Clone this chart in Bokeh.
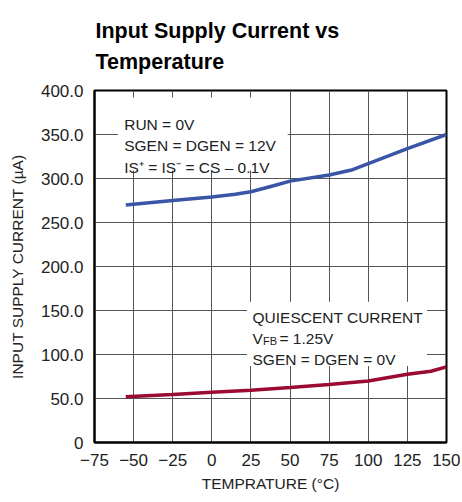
from bokeh.plotting import figure
from bokeh.models import Label, BoxAnnotation, Title, FixedTicker, Range1d
from bokeh.embed import file_html
from bokeh.resources import INLINE

# ---- data ----
temp_blue = [-55, -25, 0, 15, 25, 40, 50, 75, 90, 100, 125, 150]
run_current = [270, 275, 279, 282, 285, 292, 297, 304, 310, 317, 334, 350]
temp_red = [-55, -25, 0, 25, 50, 75, 100, 125, 140, 150]
quiescent_current = [52, 54.5, 57, 59.5, 62.5, 66, 70, 77.5, 81, 86]

x_ticks = [-75, -50, -25, 0, 25, 50, 75, 100, 125, 150]
x_tick_labels = ["\u221275", "\u221250", "\u221225", "0", "25", "50", "75", "100", "125", "150"]
y_ticks = [0, 50, 100, 150, 200, 250, 300, 350, 400]
y_tick_labels = ["0", "50.0", "100.0", "150.0", "200.0", "250.0", "300.0", "350.0", "400.0"]

FONT = "Liberation Sans"
BLUE = "#3a55a5"
RED = "#9b0a33"
TXT = "#222222"

p = figure(frame_width=352, frame_height=352, output_backend="svg", toolbar_location=None,
           x_range=Range1d(-75, 150), y_range=Range1d(0, 400),
           min_border_left=94, min_border_right=14, min_border_bottom=44, min_border_top=89)

p.add_layout(Title(text="Input Supply Current vs\nTemperature", text_font=FONT,
                   text_font_size="21.5px", text_font_style="bold", align="left",
                   offset=1, standoff=33, text_line_height=1.3,
                   text_color="black"), "above")

p.outline_line_color = "black"
p.outline_line_width = 2
p.background_fill_color = "white"
p.border_fill_color = "white"

p.xaxis.ticker = FixedTicker(ticks=x_ticks)
p.yaxis.ticker = FixedTicker(ticks=y_ticks)
p.xaxis.major_label_overrides = {t: l for t, l in zip(x_ticks, x_tick_labels)}
p.yaxis.major_label_overrides = {t: l for t, l in zip(y_ticks, y_tick_labels)}

for ax in (p.xaxis, p.yaxis):
    ax.axis_line_color = "black"
    ax.axis_line_width = 2
    ax.major_tick_line_color = None
    ax.minor_tick_line_color = None
    ax.major_label_text_font = FONT
    ax.major_label_text_font_size = "17px"
    ax.major_label_text_color = TXT
    ax.axis_label_text_font = FONT
    ax.axis_label_text_font_size = "15.5px"
    ax.axis_label_text_font_style = "normal"
    ax.axis_label_text_color = TXT

p.xaxis.axis_label = "TEMPRATURE (\u00b0C)"
p.yaxis.axis_label = "INPUT SUPPLY CURRENT (\u00b5A)"
p.xaxis.major_label_standoff = 5
p.yaxis.major_label_standoff = 5
p.xaxis.axis_label_standoff = 6
p.yaxis.axis_label_standoff = 12

p.grid.grid_line_color = "#555555"
p.grid.grid_line_width = 1

p.line(temp_blue, run_current, line_color=BLUE, line_width=3.5)
p.line(temp_red, quiescent_current, line_color=RED, line_width=3.5)

# white boxes behind annotations
p.add_layout(BoxAnnotation(left=-60, right=48.5, bottom=309, top=392,
                           fill_color="white", fill_alpha=1, line_color=None, level="overlay"))
p.add_layout(BoxAnnotation(left=22.5, right=137.5, bottom=87, top=160,
                           fill_color="white", fill_alpha=1, line_color=None, level="overlay"))

def lab(x, y, text, size="15.5px", xo=0, yo=0):
    p.add_layout(Label(x=x, y=y, text=text, text_font=FONT, text_font_size=size,
                       text_color=TXT, text_baseline="alphabetic",
                       x_offset=xo, y_offset=yo, level="overlay"))

lab(-56, 361.5, "RUN = 0V")
lab(-56, 337.5, "SGEN = DGEN = 12V")
lab(-56, 312.5, "IS\u207a = IS\u207b = CS \u2013 0.1V")

lab(26, 142, "QUIESCENT CURRENT")
lab(26, 118.5, "V")
lab(26, 118.5, "FB", size="11px", xo=10.5, yo=-3)
lab(26, 118.5, "= 1.25V", xo=27)
lab(26, 94.3, "SGEN = DGEN = 0V")

open("out.html", "w").write(file_html(p, INLINE))
